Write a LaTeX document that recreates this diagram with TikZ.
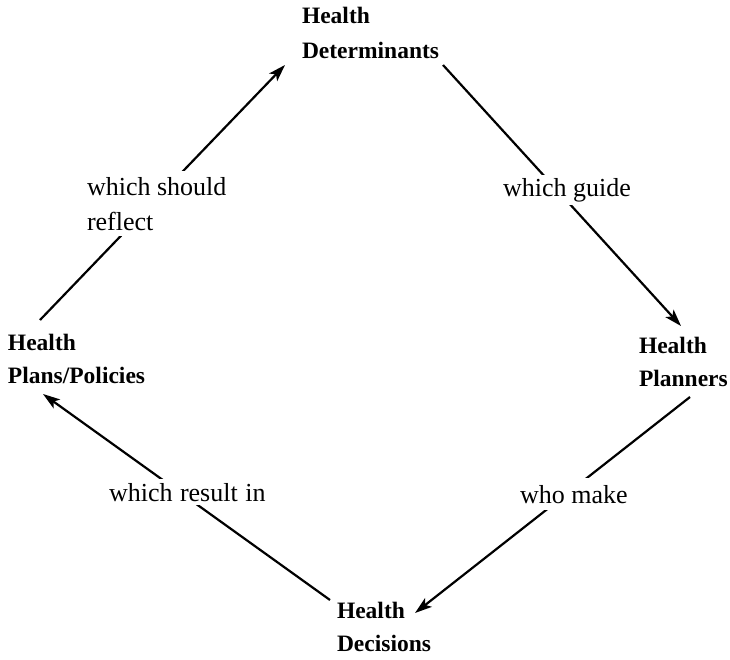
\documentclass[tikz,border=0pt]{standalone}
\usepackage{fontspec}
\setmainfont{Liberation Serif}
\usetikzlibrary{arrows.meta}
\begin{document}
\begin{tikzpicture}[x=1pt,y=-1pt,
  term/.style={font=\fontsize{23.5}{33}\selectfont\bfseries, align=left, inner sep=0pt, outer sep=0pt, anchor=north west},
  lbl/.style={font=\fontsize{26}{35}\selectfont, align=left, fill=white, outer sep=0pt, anchor=north west},
  arr/.style={line width=2.2pt, -{Stealth[length=17pt,width=11pt,inset=4pt]}}]
\useasboundingbox (0,0) rectangle (730,660);
\node[term] (det) at (302,7) {Health\\[2pt]Determinants};
\node[term] (pla) at (639,337) {Health\\Planners};
\node[term] (dec) at (337,602) {Health\\Decisions};
\node[term] (pol) at (8,334) {Health\\Plans/Policies};
\draw[arr] ([shift={(32,-14)}]pol.north west) -- ([shift={(-17,58)}]det.north west);
\draw[arr] ([shift={(141,58)}]det.north west) -- ([shift={(42,-11)}]pla.north west);
\draw[arr] ([shift={(51,60)}]pla.north west) -- ([shift={(78,11)}]dec.north west);
\draw[arr] ([shift={(-7,-2)}]dec.north west) -- ([shift={(35,60)}]pol.north west);
\node[lbl, inner sep=6pt] (l1) at (81,171) {which should\\reflect};
\node[lbl, inner sep=3pt] (l2) at (500,175) {which guide};
\node[lbl, inner sep=4pt] (l3) at (105,479) {which\hspace{1pt} result\hspace{1pt} in};
\node[lbl, inner xsep=4pt, inner ysep=7pt] (l4) at (516,478) {who make};
\end{tikzpicture}
\end{document}
